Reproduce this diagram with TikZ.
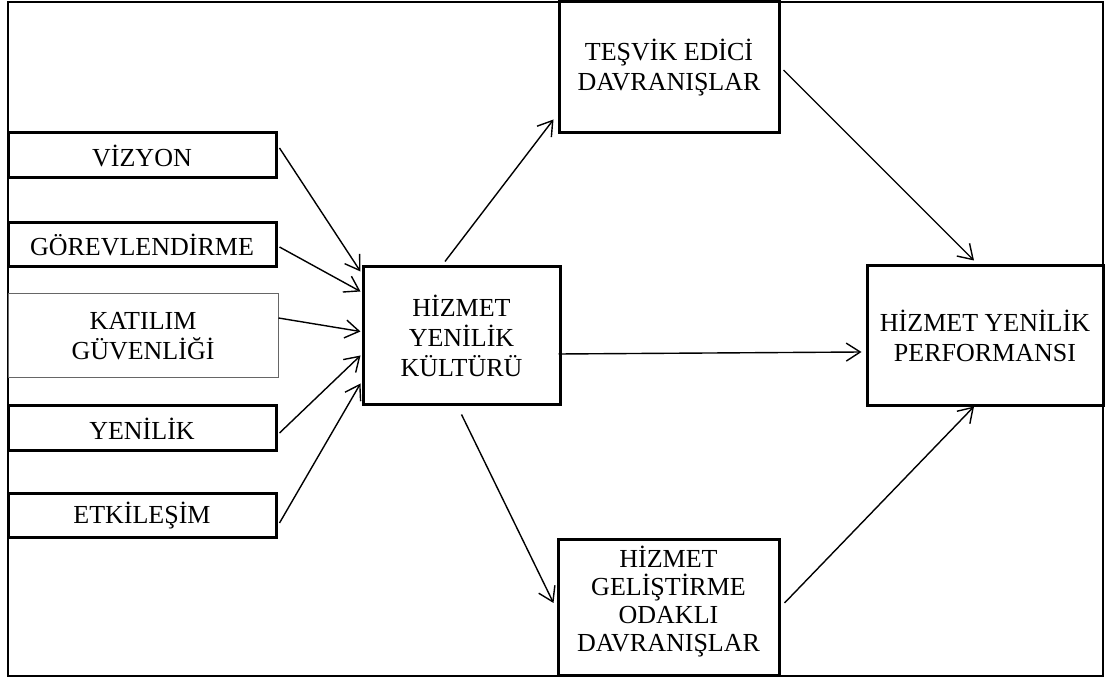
\documentclass[tikz,border=0pt]{standalone}
\usepackage{fontspec}
\setmainfont{Liberation Serif}
\usetikzlibrary{arrows.meta,calc}
\tikzstyle{arr}     =[-{Straight Barb[length=7pt,width=9pt]}, line width=0.7pt]
\tikzstyle{box}     =[draw, line width=1.5pt, align=center, inner sep=0pt]
\tikzstyle{thinbox} =[draw=black!60, line width=0.5pt, align=center, inner sep=0pt]

\begin{document}
\begin{tikzpicture}[x=0.5pt, y=-0.5pt, every node/.style={font=\fontsize{13}{15}\selectfont}]
  \useasboundingbox (0,0) rectangle (1105,679);

  % ── outer frame ────────────────────────────────────────────────────────────
  \draw[line width=1pt] (8,2) rectangle (1103,676);

  % ── dimensions ─────────────────────────────────────────────────────────────
  \node[box,minimum width=134pt,minimum height=22.5pt] (viz) at (142,155.5) {VİZYON};
  \node[box,minimum width=134pt,minimum height=22pt]   (gor) at (142,245)   {GÖREVLENDİRME};
  \node[thinbox,minimum width=135pt,minimum height=42pt] (kat) at (143,336) {KATILIM\\GÜVENLİĞİ};
  \node[box,minimum width=134pt,minimum height=22.5pt] (yen) at (142,428.5) {YENİLİK};
  \node[box,minimum width=134pt,minimum height=22pt]   (etk) at (142,516)   {ETKİLEŞİM};

  % ── culture and behaviours ─────────────────────────────────────────────────
  \node[box,minimum width=98.5pt,minimum height=69pt] (hyk) at (461.5,336) {HİZMET\\YENİLİK\\KÜLTÜRÜ};
  \node[box,minimum width=110pt,minimum height=65.5pt] (tes) at (669,67.5) {TEŞVİK EDİCİ\\DAVRANIŞLAR};
  \node[box,minimum width=110.5pt,minimum height=68pt,font=\fontsize{13}{14}\selectfont]
    (hgo) at (668.5,608) {HİZMET\\GELİŞTİRME\\ODAKLI\\DAVRANIŞLAR\\[-5pt]};

  % ── performance ────────────────────────────────────────────────────────────
  \node[box,minimum width=118pt,minimum height=70pt] (hyp) at (985,336) {HİZMET YENİLİK\\PERFORMANSI};

  % ── connectors ─────────────────────────────────────────────────────────────
  \draw[arr] ([xshift=1pt,yshift=3.75pt]viz.east)  -- ([xshift=-0.5pt,yshift=-3pt]hyk.north west);
  \draw[arr] ([xshift=1pt,yshift=-1pt]gor.east)    -- ([xshift=-0.5pt,yshift=-13pt]hyk.north west);
  \draw[arr] ([yshift=9pt]kat.east)                -- ([xshift=-0.5pt,yshift=-33pt]hyk.north west);
  \draw[arr] ([xshift=1pt,yshift=-2.25pt]yen.east) -- ([xshift=-0.5pt,yshift=-45pt]hyk.north west);
  \draw[arr] ([xshift=1pt,yshift=-3.5pt]etk.east)  -- ([xshift=-0.5pt,yshift=-59pt]hyk.north west);

  \draw[arr] ([xshift=-8.25pt,yshift=2pt]hyk.north) -- ([xshift=-2pt,yshift=7.5pt]tes.south west);
  \draw[arr] ([yshift=-4pt]hyk.south)               -- ([xshift=-1.5pt,yshift=2.5pt]hgo.west);
  \draw[arr] ([xshift=-1.5pt,yshift=-9pt]hyk.east)  -- ([xshift=-2pt,yshift=-8pt]hyp.west);

  \draw[arr] ([xshift=1.5pt,yshift=-1.25pt]tes.east) -- ([xshift=-5.5pt,yshift=2pt]hyp.north);
  \draw[arr] ([xshift=2pt,yshift=2.5pt]hgo.east)     -- ([xshift=-5.5pt,yshift=0.5pt]hyp.south);

\end{tikzpicture}
\end{document}
